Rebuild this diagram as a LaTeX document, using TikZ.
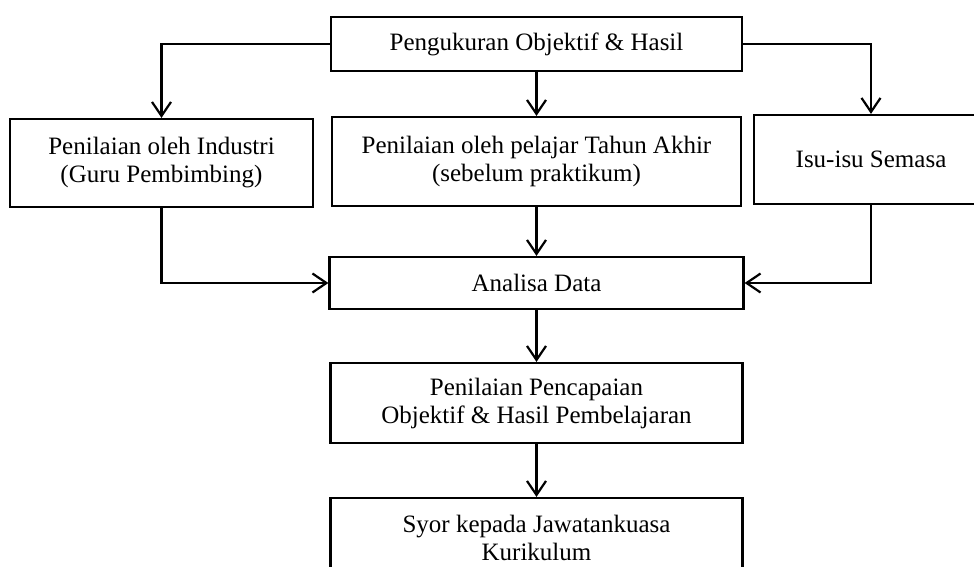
\documentclass[tikz,border=0pt]{standalone}
\usepackage{fontspec}
\setmainfont{Liberation Serif}
\usetikzlibrary{arrows.meta}
\begin{document}
\begin{tikzpicture}[x=1pt,y=-1pt,
  box/.style={draw, line width=2.2pt, align=center, inner sep=0pt, font=\fontsize{25}{28}\selectfont},
  conn/.style={line width=2.2pt, -{Straight Barb[length=14pt,width=19pt]}}]
\useasboundingbox (0,0) rectangle (974,567);
\clip (0,0) rectangle (974,567);
\fill[white] (0,0) rectangle (974,567);
\node[box, minimum width=411pt, minimum height=54pt] (top) at (536.5,44) {Pengukuran Objektif \& Hasil};
\node[box, minimum width=303pt, minimum height=88pt] (ind) at (161.5,163) {Penilaian oleh Industri\\(Guru Pembimbing)};
\node[box, minimum width=409pt, minimum height=89pt] (pel) at (536.5,161.5) {Penilaian oleh pelajar Tahun Akhir\\(sebelum praktikum)};
\node[box, minimum width=234pt, minimum height=89pt] (isu) at (871,159.5) {Isu-isu Semasa};
\node[box, minimum width=414pt, minimum height=52pt] (ana) at (536.5,283) {Analisa Data};
\node[box, minimum width=412pt, minimum height=80pt] (pen) at (536.5,403) {Penilaian Pencapaian\\Objektif \& Hasil Pembelajaran};
\node[box, minimum width=412pt, minimum height=80pt] (syor) at (536.5,538) {Syor kepada Jawatankuasa\\Kurikulum};
\draw[conn] (top.west) -| (ind.north);
\draw[conn] (top.east) -| (isu.north);
\draw[conn] (top.south) -- (pel.north);
\draw[conn] (ind.south) |- (ana.west);
\draw[conn] (isu.south) |- (ana.east);
\draw[conn] (pel.south) -- (ana.north);
\draw[conn] (ana.south) -- (pen.north);
\draw[conn] (pen.south) -- (syor.north);
\end{tikzpicture}
\end{document}
